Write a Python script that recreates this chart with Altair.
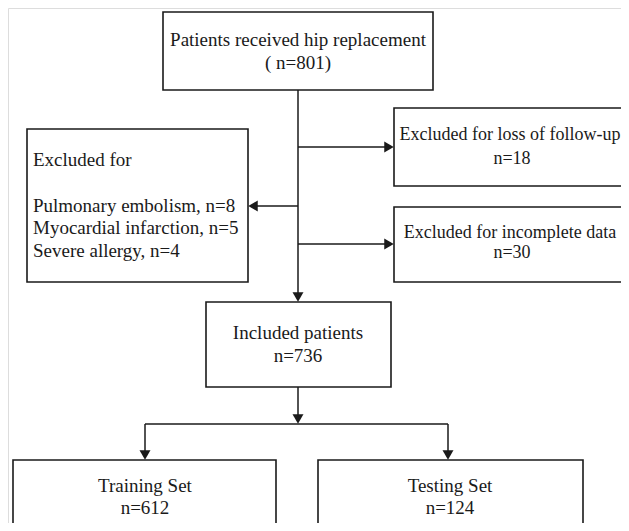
import altair as alt
import pandas as pd

# ---- content (text and counts) ----
total_label = "Patients received hip replacement"
total_n = 801
left_header = "Excluded for"
left_reasons = ["Pulmonary embolism", "Myocardial infarction", "Severe allergy"]
left_counts = [8, 5, 4]
right_labels = ["Excluded for loss of follow-up", "Excluded for incomplete data"]
right_counts = [18, 30]
included_label = "Included patients"
included_n = 736
split_labels = ["Training Set", "Testing Set"]
split_counts = [612, 124]

# ---- layout (pixel coordinates of the picture) ----
box_x1 = [163, 27, 394, 394, 206, 13, 318]
box_x2 = [433, 248, 650, 650, 391, 276, 583]
box_y1 = [12, 129, 108, 207, 302, 460, 460]
box_y2 = [90, 282, 186, 282, 387, 560, 560]
boxes = pd.DataFrame({"x": box_x1, "x2": box_x2, "y": box_y1, "y2": box_y2})

seg_x1 = [298, 298, 252, 298, 298, 145, 145, 448]
seg_x2 = [298, 389, 298, 389, 298, 448, 145, 448]
seg_y1 = [90, 147, 206, 244, 387, 424, 424, 424]
seg_y2 = [297, 147, 206, 244, 419, 424, 455, 455]
segs = pd.DataFrame({"x": seg_x1, "x2": seg_x2, "y": seg_y1, "y2": seg_y2})

heads = pd.DataFrame({
    "x": [298, 389, 253, 389, 298, 145, 448],
    "y": [297, 147, 206, 244, 419, 455, 455],
    "shape": ["triangle-down", "triangle-right", "triangle-left", "triangle-right",
              "triangle-down", "triangle-down", "triangle-down"],
})

center_text = pd.DataFrame({
    "x": [298, 298, 298, 298, 145, 145, 450, 450],
    "y": [40, 63, 333, 356, 486, 508, 486, 508],
    "t": [total_label, f" ( n={total_n})",
          included_label, f"n={included_n}",
          split_labels[0], f"n={split_counts[0]}",
          split_labels[1], f"n={split_counts[1]}"],
})

right_text = pd.DataFrame({
    "x": [510, 512, 510, 512],
    "y": [135, 159, 233, 253],
    "t": [right_labels[0], f"n={right_counts[0]}",
          right_labels[1], f"n={right_counts[1]}"],
})

left_text = pd.DataFrame({
    "x": [33, 33, 33, 33],
    "y": [160, 206, 228, 251],
    "t": [left_header] + [f"{r}, n={c}" for r, c in zip(left_reasons, left_counts)],
})

W, H = 613, 515
xs = alt.Scale(domain=[8, 8 + W], nice=False, zero=False)
ys = alt.Scale(domain=[8, 8 + H], nice=False, zero=False, reverse=True)
INK = "#1a1a1a"
FONT = "Liberation Serif"
FS = 19

rects = alt.Chart(boxes).mark_rect(
    fill="white", stroke=INK, strokeWidth=1.6, clip=True
).encode(
    x=alt.X("x:Q", scale=xs, axis=None), x2="x2:Q",
    y=alt.Y("y:Q", scale=ys, axis=None), y2="y2:Q",
)

lines = alt.Chart(segs).mark_rule(color=INK, strokeWidth=1.5).encode(
    x=alt.X("x:Q", scale=xs, axis=None), x2="x2:Q",
    y=alt.Y("y:Q", scale=ys, axis=None), y2="y2:Q",
)

arrows = alt.Chart(heads).mark_point(
    filled=True, color=INK, size=120, opacity=1
).encode(
    x=alt.X("x:Q", scale=xs, axis=None),
    y=alt.Y("y:Q", scale=ys, axis=None),
    shape=alt.Shape("shape:N", scale=None, legend=None),
)

ctext = alt.Chart(center_text).mark_text(
    font=FONT, fontSize=FS, color=INK, align="center", baseline="middle"
).encode(
    x=alt.X("x:Q", scale=xs, axis=None),
    y=alt.Y("y:Q", scale=ys, axis=None),
    text="t:N",
)

rtext = alt.Chart(right_text).mark_text(
    font=FONT, fontSize=18, color=INK, align="center", baseline="middle"
).encode(
    x=alt.X("x:Q", scale=xs, axis=None),
    y=alt.Y("y:Q", scale=ys, axis=None),
    text="t:N",
)

ltext = alt.Chart(left_text).mark_text(
    font=FONT, fontSize=FS, color=INK, align="left", baseline="middle"
).encode(
    x=alt.X("x:Q", scale=xs, axis=None),
    y=alt.Y("y:Q", scale=ys, axis=None),
    text="t:N",
)

chart = alt.layer(rects, lines, arrows, ctext, rtext, ltext).properties(
    width=W, height=H, padding=0, autosize=alt.AutoSizeParams(type="none")
).configure_view(stroke=None).configure(background="white")

chart.save("out.html", embed_options={"renderer": "svg", "actions": False})
